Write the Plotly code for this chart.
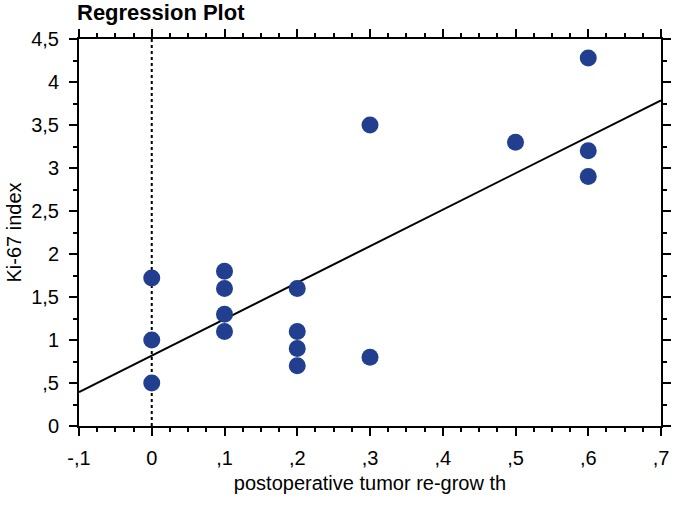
import numpy as np
import plotly.graph_objects as go

# Data
regrowth = [0, 0, 0, 0.1, 0.1, 0.1, 0.1, 0.2, 0.2, 0.2, 0.2, 0.3, 0.3, 0.5, 0.6, 0.6, 0.6]
ki67 = [1.72, 1.0, 0.5, 1.8, 1.6, 1.3, 1.1, 1.6, 1.1, 0.9, 0.7, 3.5, 0.8, 3.3, 4.28, 3.2, 2.9]

x_tickvals = [-0.1, 0, 0.1, 0.2, 0.3, 0.4, 0.5, 0.6, 0.7]
x_ticktext = ["-,1", "0", ",1", ",2", ",3", ",4", ",5", ",6", ",7"]
y_tickvals = [0, 0.5, 1, 1.5, 2, 2.5, 3, 3.5, 4, 4.5]
y_ticktext = ["0", ",5", "1", "1,5", "2", "2,5", "3", "3,5", "4", "4,5"]
x_range = [-0.1, 0.7]
y_range = [0, 4.5]
ref_x = 0

slope, intercept = np.polyfit(regrowth, ki67, 1)
line_x = np.array(x_range)
line_y = slope * line_x + intercept

FONT = "Arial, Liberation Sans, sans-serif"

fig = go.Figure()
fig.add_trace(go.Scatter(x=line_x, y=line_y, mode="lines",
                         line=dict(color="black", width=2), hoverinfo="skip"))
fig.add_trace(go.Scatter(x=regrowth, y=ki67, mode="markers",
                         marker=dict(color="#213f8e", size=17, line=dict(width=0))))
fig.add_vline(x=ref_x, line=dict(color="black", width=2, dash="dot"), layer="below")

axis_common = dict(
    showgrid=False, zeroline=False, showline=True, linecolor="black", linewidth=2,
    mirror="ticks", ticks="outside", ticklen=8, tickwidth=2, tickcolor="black",
    tickfont=dict(family=FONT, size=20, color="black"), automargin=False,
)

fig.update_xaxes(**axis_common, range=x_range, tickmode="array",
                 tickvals=x_tickvals, ticktext=x_ticktext, ticklabelstandoff=5,
                 minor=dict(ticks="outside", ticklen=4, tickwidth=2, tickcolor="black",
                            dtick=0.025, showgrid=False),
                 title=dict(text="postoperative tumor re-grow th",
                            font=dict(family=FONT, size=20, color="black"), standoff=8))
fig.update_yaxes(**axis_common, range=y_range, tickmode="array",
                 tickvals=y_tickvals, ticktext=y_ticktext, ticklabelstandoff=6,
                 minor=dict(ticks="outside", ticklen=4, tickwidth=2, tickcolor="black",
                            dtick=0.25, showgrid=False),
                 title=dict(text="Ki-67 index",
                            font=dict(family=FONT, size=20, color="black"), standoff=4))

fig.update_layout(
    width=680, height=506,
    margin=dict(l=79, r=19, t=39, b=80),
    paper_bgcolor="white", plot_bgcolor="white",
    showlegend=False,
    title=dict(text="<b>Regression Plot</b>", x=77 / 680, xanchor="left", xref="container",
               y=1 - 12 / 506, yanchor="middle", yref="container", pad=dict(l=0, r=0, t=0, b=0),
               font=dict(family=FONT, size=22, color="black")),
)

fig.write_html("out.html", config={"displayModeBar": False},
               post_script="document.body.style.margin='0';")
